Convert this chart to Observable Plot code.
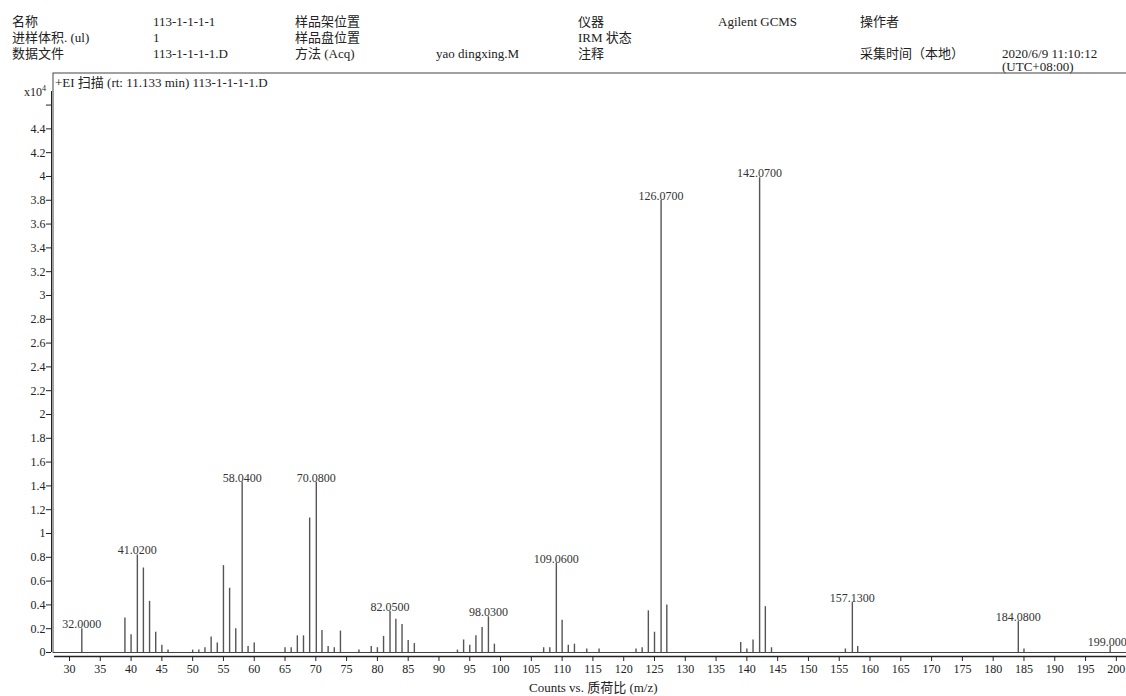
<!DOCTYPE html>
<html>
<head>
<meta charset="utf-8">
<script src="https://cdn.jsdelivr.net/npm/d3@7"></script>
<script src="https://cdn.jsdelivr.net/npm/@observablehq/plot@0.6"></script>
<style>
  html, body { margin: 0; padding: 0; background: #fff; overflow: hidden; }
  #page { position: relative; width: 1126px; height: 696px; font-family: "Liberation Serif", "Noto Sans CJK SC", serif; color: #222; }
  .t { position: absolute; font-size: 13px; line-height: 16px; white-space: pre; }
  #chart { position: absolute; left: 0; top: 72px; }
</style>
</head>
<body>
<div id="page">
  <div class="t" style="left:12px;top:14px">名称</div>
  <div class="t" style="left:153px;top:14px">113-1-1-1-1</div>
  <div class="t" style="left:295px;top:14px">样品架位置</div>
  <div class="t" style="left:578px;top:14px">仪器</div>
  <div class="t" style="left:718px;top:14px">Agilent GCMS</div>
  <div class="t" style="left:860px;top:14px">操作者</div>

  <div class="t" style="left:12px;top:30px">进样体积. (ul)</div>
  <div class="t" style="left:153px;top:30px">1</div>
  <div class="t" style="left:295px;top:30px">样品盘位置</div>
  <div class="t" style="left:578px;top:30px">IRM 状态</div>

  <div class="t" style="left:12px;top:46px">数据文件</div>
  <div class="t" style="left:153px;top:46px">113-1-1-1-1.D</div>
  <div class="t" style="left:295px;top:46px">方法 (Acq)</div>
  <div class="t" style="left:436px;top:46px">yao dingxing.M</div>
  <div class="t" style="left:578px;top:46px">注释</div>
  <div class="t" style="left:860px;top:46px">采集时间（本地）</div>
  <div class="t" style="left:1002px;top:46px">2020/6/9 11:10:12</div>
  <div class="t" style="left:1002px;top:59px">(UTC+08:00)</div>

  <div id="chart"></div>

  <div class="t" style="left:24px;top:81px;font-size:12px">x10<sup style="font-size:8px;vertical-align:5px">4</sup></div>
  <div class="t" style="left:55px;top:75px">+EI 扫描 (rt: 11.133 min) 113-1-1-1-1.D</div>
  <div class="t" style="left:529px;top:680px">Counts vs. 质荷比 (m/z)</div>
</div>
<script>
// m/z of each peak (labelled peaks carry their exact printed mass)
const mz = [32.00, 39, 40, 41.02, 42, 43, 44, 45, 46, 50, 51, 52, 53, 54, 55, 56, 57, 58.04, 59, 60,
  65, 66, 67, 68, 69, 70.08, 71, 72, 73, 74, 77, 79, 80, 81, 82.05, 83, 84, 85, 86,
  93, 94, 95, 96, 97, 98.03, 99, 107, 108, 109.06, 110, 111, 112, 114, 116,
  122, 123, 124, 125, 126.07, 127, 139, 140, 141, 142.07, 143, 144,
  156, 157.13, 158, 184.08, 185, 199.00];
// abundance in units of 10^4 counts
const abundance = [0.20, 0.29, 0.15, 0.82, 0.71, 0.43, 0.17, 0.06, 0.02, 0.02, 0.02, 0.04, 0.13, 0.08, 0.73, 0.54, 0.20, 1.43, 0.05, 0.08,
  0.04, 0.04, 0.14, 0.14, 1.13, 1.43, 0.185, 0.05, 0.04, 0.18, 0.02, 0.05, 0.04, 0.135, 0.345, 0.28, 0.235, 0.10, 0.075,
  0.02, 0.105, 0.06, 0.14, 0.21, 0.30, 0.07, 0.04, 0.04, 0.75, 0.27, 0.06, 0.07, 0.03, 0.03,
  0.03, 0.04, 0.35, 0.17, 3.80, 0.40, 0.085, 0.03, 0.105, 3.99, 0.385, 0.04,
  0.03, 0.42, 0.05, 0.26, 0.03, 0.05];
const labeledPeaks = [32.00, 41.02, 58.04, 70.08, 82.05, 98.03, 109.06, 126.07, 142.07, 157.13, 184.08, 199.00];

const xTicks = [30, 35, 40, 45, 50, 55, 60, 65, 70, 75, 80, 85, 90, 95, 100, 105, 110, 115, 120, 125, 130,
  135, 140, 145, 150, 155, 160, 165, 170, 175, 180, 185, 190, 195, 200];
const yTicks = [0, 0.2, 0.4, 0.6, 0.8, 1, 1.2, 1.4, 1.6, 1.8, 2, 2.2, 2.4, 2.6, 2.8, 3, 3.2, 3.4, 3.6, 3.8, 4, 4.2, 4.4, 4.6];
const yTickLabels = ["0", "0.2", "0.4", "0.6", "0.8", "1", "1.2", "1.4", "1.6", "1.8", "2", "2.2", "2.4", "2.6", "2.8",
  "3", "3.2", "3.4", "3.6", "3.8", "4", "4.2", "4.4", ""];

const peaks = mz.map((m, i) => ({mz: m, v: abundance[i]}));
const labeled = peaks.filter(p => labeledPeaks.includes(p.mz));
const yLabelMap = new Map(yTicks.map((t, i) => [t, yTickLabels[i]]));

const xDomain = [27.077, 201.65];
const yDomain = [-4 / 119, 4.714];

const chart = Plot.plot({
  width: 1126,
  height: 624,
  marginLeft: 51,
  marginRight: 0,
  marginTop: 19,
  marginBottom: 40,
  x: {domain: xDomain},
  y: {domain: yDomain},
  style: {fontFamily: "Liberation Serif, Noto Sans CJK SC, serif", fontSize: "12px", color: "#222", background: "transparent"},
  marks: [
    Plot.frame({stroke: "#444", insetTop: -18.5, insetBottom: 4, insetLeft: 1.5, insetRight: -10}),
    Plot.ruleX([xDomain[0]], {y1: 0, y2: yDomain[1], stroke: "#222"}),
    Plot.ruleY([yDomain[0]], {insetLeft: 3, stroke: "#222", strokeWidth: 1.3}),
    Plot.axisY({ticks: yTicks, tickSize: 5, tickPadding: 1, tickFormat: d => yLabelMap.get(d), label: null, fontSize: 12}),
    Plot.axisX({ticks: xTicks, tickSize: 5, tickPadding: 3, label: null, fontSize: 12}),
    Plot.ruleX(peaks, {x: "mz", y1: 0, y2: "v", stroke: "#555", strokeWidth: 1.4}),
    Plot.text(labeled, {x: "mz", y: "v", text: d => d.mz.toFixed(4), lineAnchor: "bottom", dy: -0.5, fontSize: 12, fill: "#333"})
  ]
});
document.getElementById("chart").appendChild(chart);
</script>
</body>
</html>
